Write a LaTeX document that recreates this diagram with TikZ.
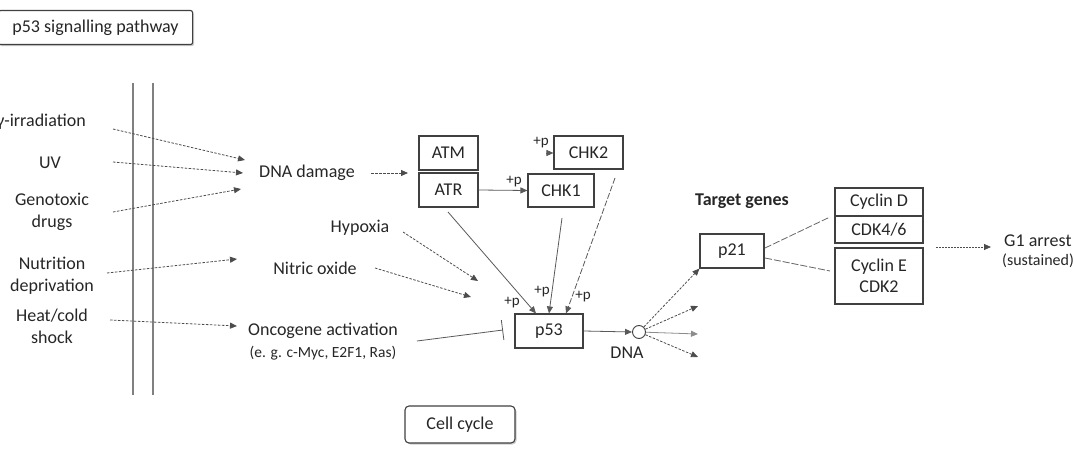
\documentclass[tikz,border=0pt]{standalone}
\usepackage{fontspec}
\setmainfont{Carlito}
\usetikzlibrary{arrows.meta,shadows}
\begin{document}
\begin{tikzpicture}[x=1pt,y=-1pt,
  lbl/.style={font=\fontsize{18}{22}\selectfont, text=black!85, inner sep=0, align=center},
  sml/.style={font=\fontsize{15.5}{18}\selectfont, text=black!85, inner sep=0, align=center},
  pp/.style={font=\fontsize{15}{18}\selectfont, text=black!85, inner sep=0},
  box/.style={draw=black!75, line width=1.1, inner sep=0, font=\fontsize{18}{21}\selectfont, text=black!85, align=center},
  tip/.style={-{Triangle[length=7,width=6]}},
  dsh/.style={tip, draw=black!70, line width=0.8, dash pattern=on 2.5pt off 1.5pt},
  sol/.style={tip, draw=black!65, line width=0.8},
  ldsh/.style={draw=black!60, line width=0.8, dash pattern=on 7pt off 2pt},
  vline/.style={draw=black!50, line width=1.4}
]
\useasboundingbox (0,0) rectangle (1074,468);

% title
\node[box, rounded corners=2, minimum width=194, minimum height=34, anchor=north west, fill=white,
  drop shadow={shadow xshift=1.5pt, shadow yshift=-1.5pt, fill=black!40}] (title) at (-2,10) {p53 signalling pathway};

% vertical lines
\draw[vline] (133,83) -- (133,395);
\draw[vline] (153,83) -- (153,395);

% stimuli
\node[lbl, anchor=east] (gamma) at (86,122) {γ-irradiation};
\node[lbl] (uv) at (50,163) {UV};
\node[lbl] (geno) at (52,212) {Genotoxic\\drugs};
\node[lbl] (nutr) at (52,276) {Nutrition\\deprivation};
\node[lbl] (heat) at (52,326) {Heat/cold\\shock};

\node[lbl] (dnad) at (307,173) {DNA damage};
\node[lbl] (hypo) at (360,228) {Hypoxia};
\node[lbl] (nitric) at (315,268) {Nitric oxide};
\node[lbl] (onco) at (323,331) {Oncogene activation};
\node[sml] (oncosub) at (323,353) {(e. g. c-Myc, E2F1, Ras)};

\coordinate (gS) at (113,129); \coordinate (gE) at (245,160);
\coordinate (uS) at (113,162); \coordinate (uE) at (243,173);
\coordinate (dS) at (113,212); \coordinate (dE) at (241,189);
\coordinate (nS) at (107,273); \coordinate (nE) at (237,259);
\coordinate (hS) at (110,320); \coordinate (hE) at (237,326);
\draw[dsh] (gS) -- (gE);
\draw[dsh] (uS) -- (uE);
\draw[dsh] (dS) -- (dE);
\draw[dsh] (nS) -- (nE);
\draw[dsh] (hS) -- (hE);

% kinases
\node[box, minimum width=59, minimum height=34] (atm) at (448.5,153) {ATM};
\node[box, minimum width=59, minimum height=34] (atr) at (448.5,190) {ATR};
\node[box, minimum width=69, minimum height=33] (chk2) at (588.5,152.5) {CHK2};
\node[box, minimum width=66, minimum height=33] (chk1) at (561,190.5) {CHK1};

\coordinate (ddS) at (371,173); \coordinate (ddE) at (408,173);
\draw[dsh] (ddS) -- (ddE);

\draw[sol] (atr.east) -- (chk1.west);
\node[pp] (p1) at (514,182) {+p};
\node[pp] (p2) at (541,143) {+p};
\coordinate (c2S) at (546,153);
\draw[sol] (c2S) -- (c2S -| chk2.west);

% p53
\node[box, minimum width=68, minimum height=34] (p53) at (549,331) {p53};

\coordinate (hyS) at (403,232); \coordinate (hyE) at (478,281);
\coordinate (noS) at (375,268); \coordinate (noE) at (471,297);
\draw[dsh] (hyS) -- (hyE);
\draw[dsh] (noS) -- (noE);

\coordinate (onS) at (417,341); \coordinate (onE) at (503,330);
\draw[draw=black!65, line width=0.8, -{Bar[width=20]}] (onS) -- (onE);

\coordinate (atrS) at (448,212);
\coordinate (chk1S) at (562,218);
\coordinate (chk2S) at (615,178);
\draw[sol] (atrS) -- ([xshift=-13]p53.north);
\draw[sol] (chk1S) -- (p53.north);
\draw[sol, dash pattern=on 6pt off 2pt] (chk2S) -- ([xshift=17]p53.north);
\node[pp] (p3) at (512,303) {+p};
\node[pp] (p4) at (542,292) {+p};
\node[pp] (p5) at (583,297) {+p};

% DNA
\node[circle, draw=black!75, line width=0.9, minimum size=13, inner sep=0] (circ) at (639,332) {};
\draw[sol] (p53.east) -- (circ.west);
\node[lbl] (dna) at (627,353) {DNA};

% target genes
\node[lbl, font=\fontsize{18}{22}\selectfont\bfseries] (tg) at (742,201) {Target genes};
\node[box, minimum width=64, minimum height=34] (p21) at (732,251) {p21};
\coordinate (t2) at (698,306);
\coordinate (t3) at (698,334);
\coordinate (t4) at (698,357);
\draw[dsh] (circ) -- (p21.south west);
\draw[dsh] (circ) -- (t2);
\draw[sol, draw=black!45] (circ) -- (t3);
\draw[dsh] (circ) -- (t4);

% cyclins
\node[box, minimum width=88, minimum height=28] (cycd) at (879,202) {Cyclin D};
\node[box, minimum width=88, minimum height=27] (cdk46) at (879,229.5) {CDK4/6};
\node[box, minimum width=88, minimum height=56, font=\fontsize{18}{21}\selectfont] (cyce) at (879,276) {Cyclin E\\CDK2};

\coordinate (l1S) at (765,248); \coordinate (l1E) at (830,217);
\coordinate (l2S) at (765,258); \coordinate (l2E) at (830,271);
\draw[ldsh] (l1S) -- (l1E);
\draw[ldsh] (l2S) -- (l2E);

\coordinate (gS2) at (936,247);
\node[lbl, anchor=west] (g1) at (1004,241) {G1 arrest};
\node[sml, anchor=west, font=\fontsize{16}{18}\selectfont] (sust) at (1002,261) {(sustained)};
\coordinate (gE2) at (991,247);
\draw[dsh, dash pattern=on 1.5pt off 1.5pt] (gS2) -- (gE2);

% cell cycle
\node[box, rounded corners=4, minimum width=110, minimum height=37, fill=white,
  drop shadow={shadow xshift=1.5pt, shadow yshift=-1.5pt, fill=black!40}] (cc) at (460,424.5) {Cell cycle};
\end{tikzpicture}
\end{document}
